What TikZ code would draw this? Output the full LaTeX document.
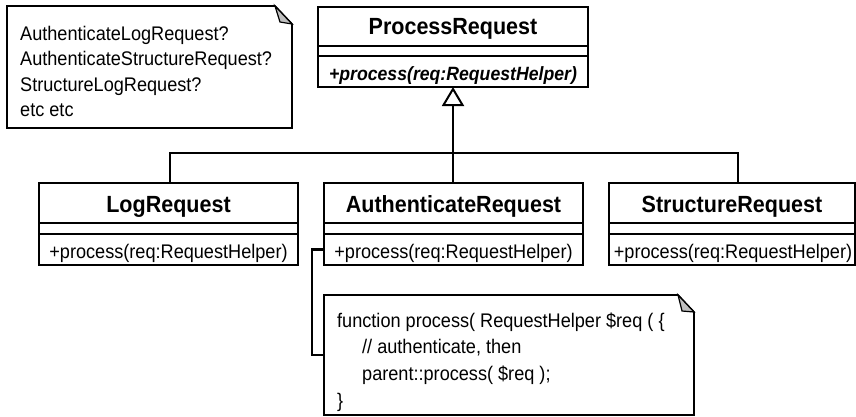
\documentclass[tikz,border=0pt]{standalone}
\usepackage{fontspec}
\setmainfont{Liberation Sans}[FakeStretch=0.92]
\usetikzlibrary{arrows.meta}
\begin{document}
\begin{tikzpicture}[x=1pt,y=-1pt,line join=miter,
  box/.style={draw, line width=1.7pt, inner sep=0pt, outer sep=0pt},
  cname/.style={font=\fontsize{23.4}{26}\selectfont\bfseries, anchor=base, inner sep=0pt},
  meth/.style={font=\fontsize{19.7}{22}\selectfont, anchor=base, inner sep=0pt},
  ntext/.style={font=\fontsize{19.7}{22}\selectfont, anchor=base west, inner sep=0pt},
  conn/.style={line width=2.3pt},
  noteline/.style={draw, line width=1.7pt},
  fold/.style={draw, fill=black!25, line width=1.2pt},
  notebox/.style={inner sep=0pt, outer sep=0pt, anchor=north west}]
\useasboundingbox (0,0) rectangle (856,416);

% ProcessRequest
\node[box, anchor=north west, minimum width=270, minimum height=39] (prName) at (318,7) {};
\node[box, anchor=north, minimum width=270, minimum height=10] (prAttr) at (prName.south) {};
\node[box, anchor=north, minimum width=270, minimum height=31] (prOps) at (prAttr.south) {};
\node[cname] (prNameT) at (453,34.5) {ProcessRequest};
\node[meth, font=\fontsize{19.2}{22}\selectfont\bfseries\itshape] (prOpsT) at (453,80) {+process(req:RequestHelper)};

% LogRequest
\node[box, anchor=north west, minimum width=259, minimum height=40] (logName) at (39,183) {};
\node[box, anchor=north, minimum width=259, minimum height=11] (logAttr) at (logName.south) {};
\node[box, anchor=north, minimum width=259, minimum height=31] (logOps) at (logAttr.south) {};
\node[cname] (logNameT) at (168.5,212.5) {LogRequest};
\node[meth] (logOpsT) at (168.5,258) {+process(req:RequestHelper)};

% AuthenticateRequest
\node[box, anchor=north west, minimum width=259, minimum height=40] (authName) at (324,183) {};
\node[box, anchor=north, minimum width=259, minimum height=11] (authAttr) at (authName.south) {};
\node[box, anchor=north, minimum width=259, minimum height=31] (authOps) at (authAttr.south) {};
\node[cname] (authNameT) at (453.5,212.5) {AuthenticateRequest};
\node[meth] (authOpsT) at (453.5,258) {+process(req:RequestHelper)};

% StructureRequest
\node[box, anchor=north west, minimum width=246, minimum height=40] (strName) at (609,183) {};
\node[box, anchor=north, minimum width=246, minimum height=11] (strAttr) at (strName.south) {};
\node[box, anchor=north, minimum width=246, minimum height=31] (strOps) at (strAttr.south) {};
\node[cname] (strNameT) at (732,212.5) {StructureRequest};
\node[meth] (strOpsT) at (733,258) {+process(req:RequestHelper)};

% generalisation
\coordinate (hl) at (170,153);
\coordinate (hr) at (738,153);
\draw[conn] (logName.north -| hl) -- (hl) -- (hr) -- (strName.north -| hr);
\draw[conn, -{Triangle[open, length=19pt, width=22pt, line width=2pt]}] (authName.north -| prOps.south) -- (prOps.south);

% Note 1
\node[notebox, minimum width=285, minimum height=122] (note1) at (7,6) {};
\draw[noteline] (note1.north west) -- ([xshift=-17pt]note1.north east) -- ([yshift=-18pt]note1.north east) -- (note1.south east) -- (note1.south west) -- cycle;
\draw[fold] ([xshift=-17pt]note1.north east) -- ([yshift=-18pt]note1.north east) -- ([xshift=-12pt,yshift=-16pt]note1.north east) -- cycle;
\node[ntext] (n1a) at (20,40) {AuthenticateLogRequest?};
\node[ntext] (n1b) at (20,65.5) {AuthenticateStructureRequest?};
\node[ntext] (n1c) at (20,91) {StructureLogRequest?};
\node[ntext] (n1d) at (20,116.5) {etc etc};

% Note 2
\node[notebox, minimum width=370, minimum height=120] (note2) at (324,295) {};
\draw[noteline] (note2.north west) -- ([xshift=-16pt]note2.north east) -- ([yshift=-17pt]note2.north east) -- (note2.south east) -- (note2.south west) -- cycle;
\draw[fold] ([xshift=-16pt]note2.north east) -- ([yshift=-17pt]note2.north east) -- ([xshift=-12pt,yshift=-16pt]note2.north east) -- cycle;
\node[ntext] (n2a) at (337,327) {function process( RequestHelper \$req ( \{};
\node[ntext] (n2b) at (362,353.5) {// authenticate, then};
\node[ntext] (n2c) at (362,380.5) {parent::process( \$req );};
\node[ntext] (n2d) at (337,407) {\}};

\draw[conn] (authOps.west) -- ++(-12,0) |- (note2.west);
\end{tikzpicture}
\end{document}
